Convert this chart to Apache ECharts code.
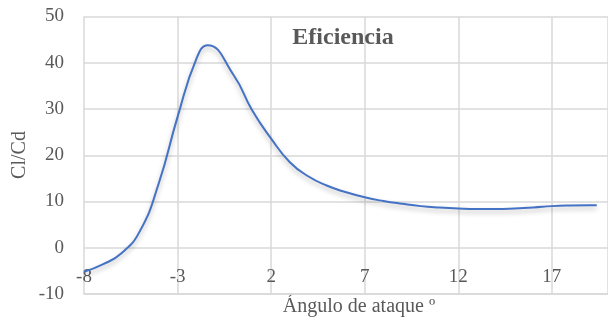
<!DOCTYPE html>
<html>
<head>
<meta charset="utf-8">
<script src="https://cdn.jsdelivr.net/npm/echarts@6/dist/echarts.min.js"></script>
<style>
  html, body { margin: 0; padding: 0; background: #fff; }
  #chart { width: 608px; height: 329px; }
</style>
</head>
<body>
<div id="chart"></div>
<script>
// Angle of attack (degrees) and lift/drag ratio
const angles = [-8, -7, -6, -5, -4, -3, -2, -1.4, 0, 1, 2, 3, 4, 5, 6, 7, 8, 9, 10, 11, 12, 13, 14, 15, 16, 17, 18, 19, 19.4];
const clcd   = [-5.2, -3.6, -1.2, 3.7, 14.0, 28.3, 40.8, 43.8, 37.3, 29.6, 23.6, 18.5, 15.4, 13.4, 12.0, 10.9, 10.1, 9.5, 9.0, 8.7, 8.5, 8.4, 8.4, 8.5, 8.7, 9.0, 9.15, 9.2, 9.2];

const xTicks = { min: -8, max: 20, step: 5 };
const yTicks = { min: -10, max: 50, step: 10 };

const titleText = 'Eficiencia';
const xName = 'Ángulo de ataque º';
const yName = 'Cl/Cd';

const FONT = '"Liberation Serif", serif';
const TEXT = '#595959';
const GRID = '#d9d9d9';

const chart = echarts.init(document.getElementById('chart'), null, { renderer: 'canvas' });

chart.setOption({
  animation: false,
  backgroundColor: '#ffffff',
  textStyle: { fontFamily: FONT },
  title: {
    text: titleText,
    left: 338,
    top: 21,
    textAlign: 'center',
    textStyle: { fontFamily: FONT, fontSize: 24, fontWeight: 'bold', color: TEXT }
  },
  graphic: [
    {
      type: 'text',
      x: 20, y: 155,
      rotation: Math.PI / 2,
      style: {
        text: yName, fill: TEXT, font: '20px ' + FONT,
        align: 'center', verticalAlign: 'middle'
      }
    },
    {
      type: 'text',
      x: 359, y: 307,
      style: {
        text: xName, fill: TEXT, font: '20px ' + FONT,
        align: 'center', verticalAlign: 'middle'
      }
    }
  ],
  grid: { left: 84, top: 16.5, width: 530, height: 277.5, containLabel: false },
  xAxis: {
    type: 'value',
    min: xTicks.min, max: xTicks.max, interval: xTicks.step,
    axisLine: { show: true, onZero: false, lineStyle: { color: GRID, width: 1.5 } },
    axisTick: { show: false },
    axisLabel: {
      inside: true, margin: 7, color: TEXT, fontFamily: FONT, fontSize: 19,
      showMaxLabel: false
    },
    splitLine: { show: true, lineStyle: { color: GRID, width: 1.5 } }
  },
  yAxis: {
    type: 'value',
    min: yTicks.min, max: yTicks.max, interval: yTicks.step,
    axisLine: { show: false },
    axisTick: { show: false },
    axisLabel: { margin: 20, color: TEXT, fontFamily: FONT, fontSize: 19 },
    splitLine: { show: true, lineStyle: { color: GRID, width: 1.5 } }
  },
  series: [{
    type: 'line',
    data: angles.map((a, i) => [a, clcd[i]]),
    smooth: 0.5,
    showSymbol: false,
    clip: false,
    lineStyle: {
      color: '#4472C4', width: 2,
      shadowColor: 'rgba(0,0,0,0.28)', shadowBlur: 5, shadowOffsetY: 3
    }
  }]
});
</script>
</body>
</html>
